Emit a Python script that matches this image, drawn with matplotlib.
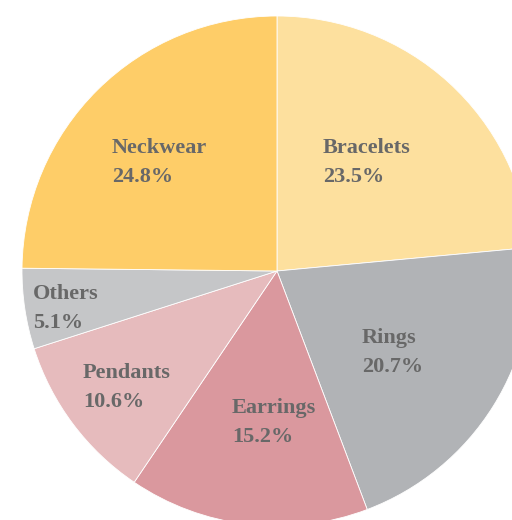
import matplotlib
matplotlib.use("Agg")
import matplotlib.pyplot as plt

categories = ["Bracelets", "Rings", "Earrings", "Pendants", "Others", "Neckwear"]
values = [23.5, 20.7, 15.2, 10.6, 5.1, 24.8]
colors = ["#FDE09E", "#B1B3B6", "#DA989E", "#E6BBBD", "#C5C6C8", "#FECD68"]

# label anchor (left x, first-line baseline) in pixels
label_px = [(323, 153), (362, 343), (232, 413), (83, 378), (33, 299), (112, 153)]

W, H = 512, 520
fig = plt.figure(figsize=(W / 100, H / 100), dpi=100)
ax = fig.add_axes([0, 0, 1, 1])
cx, cy, R = 277, 271, 255

ax.pie(values, colors=colors, startangle=90, counterclock=False, radius=1,
       wedgeprops=dict(edgecolor="white", linewidth=0.6))
ax.set_xlim(-cx / R, (W - cx) / R)
ax.set_ylim((cy - H) / R, cy / R)
ax.set_aspect("auto")
ax.axis("off")

font = dict(family=["Liberation Serif", "DejaVu Serif"], fontsize=16, color="#686868",
            fontweight="bold")
for cat, val, (px, py) in zip(categories, values, label_px):
    fig.text(px / W, 1 - py / H, cat, ha="left", va="baseline", **font)
    fig.text(px / W, 1 - (py + 29) / H, f"{val:.1f}%", ha="left", va="baseline", **font)

fig.savefig("out.png", dpi=100, facecolor="white")
